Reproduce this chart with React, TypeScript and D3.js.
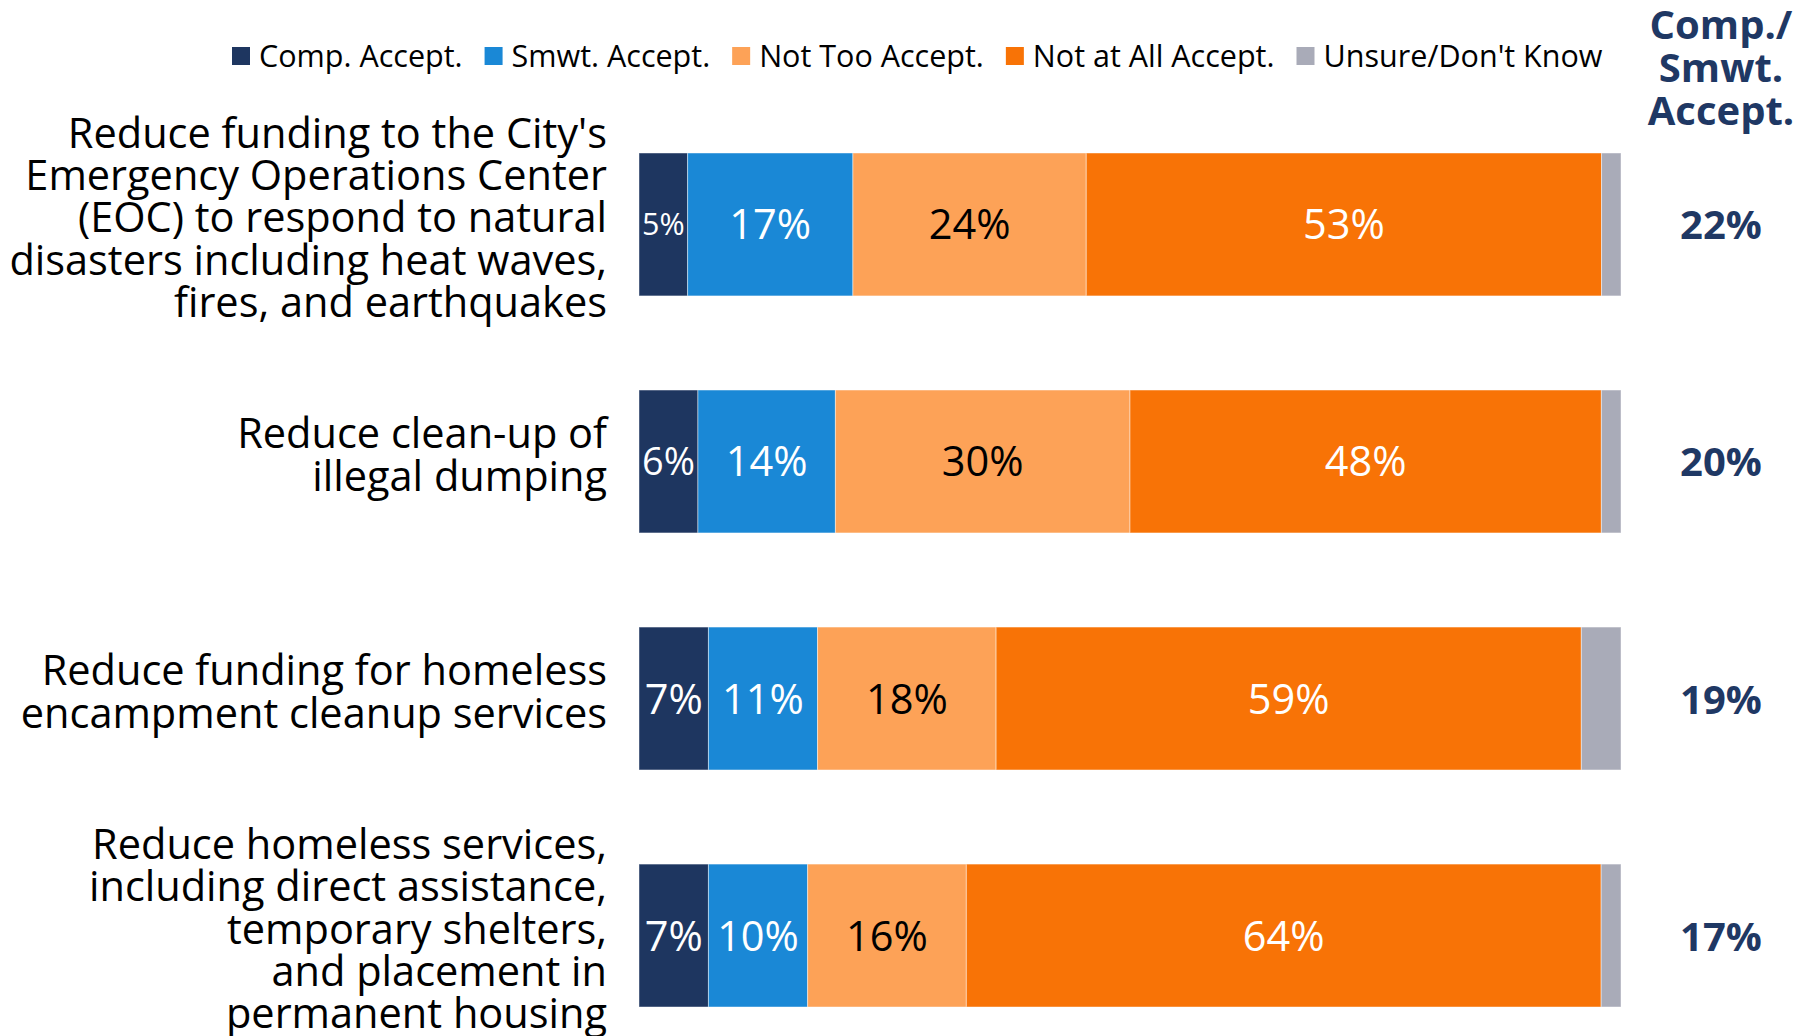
import * as React from "react";
import * as d3 from "d3";
import { useEffect, useRef } from "react";

const categories = [
  "Reduce funding to the City's|Emergency Operations Center|(EOC) to respond to natural|disasters including heat waves,|fires, and earthquakes",
  "Reduce clean-up of|illegal dumping",
  "Reduce funding for homeless|encampment cleanup services",
  "Reduce homeless services,|including direct assistance,|temporary shelters,|and placement in|permanent housing",
];

const seriesNames = ["Comp. Accept.", "Smwt. Accept.", "Not Too Accept.", "Not at All Accept.", "Unsure/Don't Know"];
const compAccept = [5, 6, 7, 7];
const smwtAccept = [17, 14, 11, 10];
const notTooAccept = [24, 30, 18, 16];
const notAtAllAccept = [53, 48, 59, 64];
const unsure = [2, 2, 4, 2];
const netAccept = [22, 20, 19, 17];
const netHeader = ["Comp./", "Smwt.", "Accept."];

const colors = ["#1e3660", "#1a88d6", "#fda257", "#f87306", "#a9abb8"];
const labelColors = ["#ffffff", "#ffffff", "#000000", "#ffffff", "#ffffff"];
const showLabel = [true, true, true, true, false];

const App: React.FunctionComponent = () => {
  const svgRef = useRef<SVGSVGElement>(null);

  useEffect(() => {
    const w = 1800;
    const h = 1036;
    const font = "'Open Sans', 'Noto Sans', sans-serif";
    const svg = d3.select(svgRef.current).attr("width", w).attr("height", h);
    svg.selectAll("*").remove();

    const series = [compAccept, smwtAccept, notTooAccept, notAtAllAccept, unsure];
    const rows = categories.map((c, i) => ({
      key: c,
      lines: c.split("|"),
      values: series.map((s) => s[i]),
      net: netAccept[i],
    }));

    const y = d3.scaleBand().domain(categories).range([153, 1007]).paddingInner(0.397).paddingOuter(0);
    const x0 = 639;
    const x1 = 1621;
    const netX = 1721;
    const labelSize = 41.5;
    const valueSize = 41.5;

    // legend
    const legend = svg.append("g").attr("font-family", font).attr("font-size", 30.5);
    let lx = 232;
    seriesNames.forEach((name, i) => {
      legend.append("rect").attr("x", lx).attr("y", 47).attr("width", 18).attr("height", 18).attr("fill", colors[i]);
      const t = legend
        .append("text")
        .attr("x", lx + 27)
        .attr("y", 67)
        .attr("fill", "#000")
        .text(name);
      const tw = (t.node() as SVGTextElement).getComputedTextLength();
      lx += 27 + tw + 22;
    });

    // net header
    svg
      .append("g")
      .selectAll("text")
      .data(netHeader)
      .join("text")
      .attr("x", netX)
      .attr("y", (_, i) => 39 + i * 43)
      .attr("text-anchor", "middle")
      .attr("font-family", font)
      .attr("font-weight", 700)
      .attr("font-size", 40)
      .attr("fill", "#1f3864")
      .text((d) => d);

    const rowG = svg
      .append("g")
      .selectAll("g")
      .data(rows)
      .join("g")
      .attr("transform", (d) => `translate(0, ${y(d.key)})`);

    const bw = y.bandwidth();

    rowG.each(function (row) {
      const g = d3.select(this);
      const total = d3.sum(row.values);
      const x = d3.scaleLinear().domain([0, total]).range([x0, x1]);
      const cum = d3.cumsum(row.values);
      const segs = row.values.map((v, i) => ({ v, i, start: cum[i] - v, end: cum[i] }));

      g.selectAll("rect")
        .data(segs)
        .join("rect")
        .attr("x", (d) => x(d.start))
        .attr("y", 0)
        .attr("width", (d) => x(d.end) - x(d.start))
        .attr("height", bw)
        .attr("fill", (d) => colors[d.i])
        .attr("stroke", "#ffffff")
        .attr("stroke-opacity", 0.45)
        .attr("stroke-width", 1);

      segs
        .filter((d) => showLabel[d.i])
        .forEach((d) => {
          const segW = x(d.end) - x(d.start);
          const t = g
            .append("text")
            .attr("x", (x(d.start) + x(d.end)) / 2)
            .attr("y", bw / 2 + 15)
            .attr("text-anchor", "middle")
            .attr("font-family", font)
            .attr("font-size", valueSize)
            .attr("fill", labelColors[d.i])
            .text(`${d.v}%`);
          const tw = (t.node() as SVGTextElement).getComputedTextLength();
          if (tw > segW - 5) {
            const fs = (valueSize * (segW - 6)) / tw;
            t.attr("font-size", fs).attr("y", bw / 2 + fs * 0.36);
          }
        });

      // category label
      const n = row.lines.length;
      g.append("g")
        .selectAll("text")
        .data(row.lines)
        .join("text")
        .attr("x", 607)
        .attr("y", (_, i) => bw / 2 + 8 + (i - (n - 1) / 2) * 42.2)
        .attr("text-anchor", "end")
        .attr("font-family", font)
        .attr("font-size", labelSize)
        .attr("fill", "#000")
        .text((d) => d);

      // net value
      g.append("text")
        .attr("x", netX)
        .attr("y", bw / 2 + 15)
        .attr("text-anchor", "middle")
        .attr("font-family", font)
        .attr("font-weight", 700)
        .attr("font-size", 40)
        .attr("fill", "#1f3864")
        .text(`${row.net}%`);
    });
  }, []);

  return (
    <svg
      ref={svgRef}
      style={{ position: "absolute", left: 0, top: 0, background: "#ffffff", display: "block" }}
    ></svg>
  );
};

export default App;
